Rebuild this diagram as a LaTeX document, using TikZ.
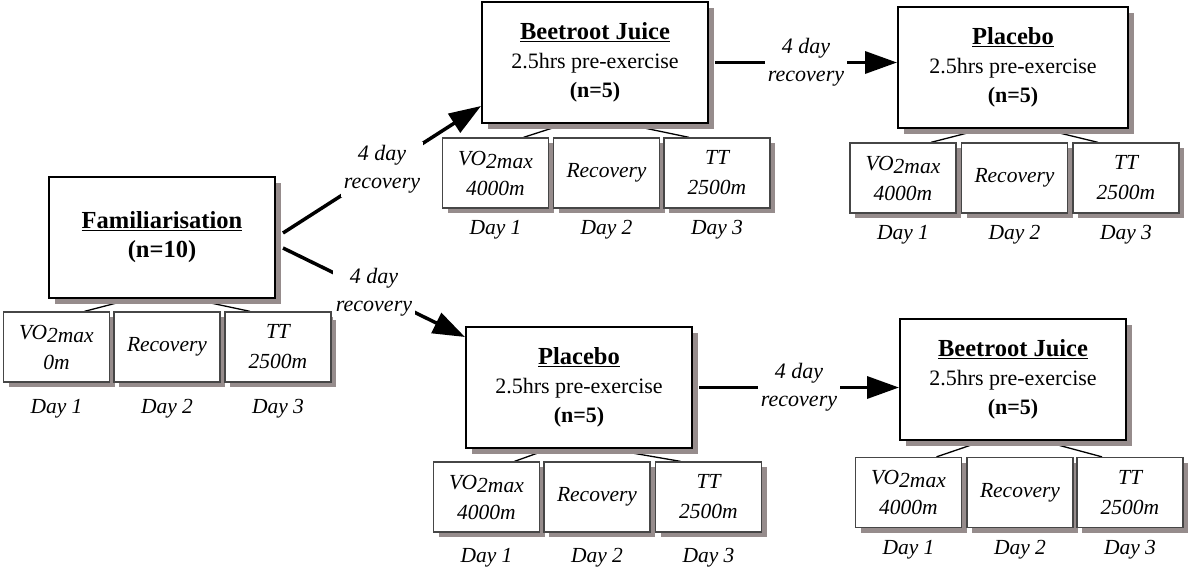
\documentclass[tikz,border=0pt]{standalone}
\usepackage{fontspec}
\setmainfont{Liberation Serif}
\usetikzlibrary{arrows.meta,shadows,backgrounds}
\definecolor{shadowc}{RGB}{150,140,140}
\definecolor{subedge}{RGB}{70,70,70}
\begin{document}
\begin{tikzpicture}[x=1pt,y=-1pt,
 mainbox/.style={draw=black,line width=2pt,fill=white,minimum width=226pt,minimum height=121pt,align=center,inner sep=0pt,font=\fontsize{22}{29}\selectfont,drop shadow={shadow xshift=6pt,shadow yshift=-6pt,fill=shadowc,opacity=1}},
 subbox/.style={draw=subedge,line width=1.3pt,fill=white,minimum width=106pt,minimum height=70pt,align=center,inner sep=0pt,font=\fontsize{21.5}{30}\selectfont\itshape,drop shadow={shadow xshift=5pt,shadow yshift=-5pt,fill=shadowc,opacity=1}},
 daylbl/.style={font=\fontsize{21.5}{26}\selectfont\itshape,inner sep=0pt},
 reclbl/.style={font=\fontsize{22}{28}\selectfont\itshape,fill=white,align=center,inner sep=3pt},
 flow/.style={line width=3.5pt,-{Triangle[length=32pt,width=22pt]}},
 tie/.style={line width=1.3pt}]
\useasboundingbox (0,0) rectangle (1189,571);

% Familiarisation
\node[mainbox,font=\fontsize{24.5}{29}\selectfont\bfseries] (fam) at (162,237.5) {\underline{Familiarisation}\\(n=10)};
\node[subbox] (fam1) at (56.5,347) {VO\raisebox{-3pt}{2max}\\0m};
\node[subbox] (fam2) at (167,347) {Recovery};
\node[subbox] (fam3) at (278,347) {TT\\2500m};
\node[daylbl] (famd1) at (56.5,409) {Day 1};
\node[daylbl] (famd2) at (167,409) {Day 2};
\node[daylbl] (famd3) at (278,409) {Day 3};

% Beetroot Juice (top)
\node[mainbox] (bja) at (595,62.5) {{\fontsize{24.5}{29}\selectfont\bfseries\underline{Beetroot Juice}}\\2.5hrs pre-exercise\\{\bfseries (n=5)}};
\node[subbox] (bja1) at (495.5,173) {VO\raisebox{-3pt}{2max}\\4000m};
\node[subbox] (bja2) at (606.5,173) {Recovery};
\node[subbox] (bja3) at (717,173) {TT\\2500m};
\node[daylbl] (bjad1) at (495.5,230) {Day 1};
\node[daylbl] (bjad2) at (606.5,230) {Day 2};
\node[daylbl] (bjad3) at (717,230) {Day 3};

% Placebo (top)
\node[mainbox,minimum width=230pt] (pla) at (1013,67.5) {{\fontsize{24.5}{29}\selectfont\bfseries\underline{Placebo}}\\2.5hrs pre-exercise\\{\bfseries (n=5)}};
\node[subbox] (pla1) at (903,178) {VO\raisebox{-3pt}{2max}\\4000m};
\node[subbox] (pla2) at (1014.5,178) {Recovery};
\node[subbox] (pla3) at (1126,178) {TT\\2500m};
\node[daylbl] (plad1) at (903,235) {Day 1};
\node[daylbl] (plad2) at (1014.5,235) {Day 2};
\node[daylbl] (plad3) at (1126,235) {Day 3};

% Placebo (bottom)
\node[mainbox] (plb) at (579,387.5) {{\fontsize{24.5}{29}\selectfont\bfseries\underline{Placebo}}\\2.5hrs pre-exercise\\{\bfseries (n=5)}};
\node[subbox] (plb1) at (486.5,497) {VO\raisebox{-3pt}{2max}\\4000m};
\node[subbox] (plb2) at (597,497) {Recovery};
\node[subbox] (plb3) at (708.5,497) {TT\\2500m};
\node[daylbl] (plbd1) at (486.5,558) {Day 1};
\node[daylbl] (plbd2) at (597,558) {Day 2};
\node[daylbl] (plbd3) at (708.5,558) {Day 3};

% Beetroot Juice (bottom)
\node[mainbox] (bjb) at (1013,379.5) {{\fontsize{24.5}{29}\selectfont\bfseries\underline{Beetroot Juice}}\\2.5hrs pre-exercise\\{\bfseries (n=5)}};
\node[subbox] (bjb1) at (908.5,492.5) {VO\raisebox{-3pt}{2max}\\4000m};
\node[subbox] (bjb2) at (1020,492.5) {Recovery};
\node[subbox] (bjb3) at (1130,492.5) {TT\\2500m};
\node[daylbl] (bjbd1) at (908.5,550) {Day 1};
\node[daylbl] (bjbd2) at (1020,550) {Day 2};
\node[daylbl] (bjbd3) at (1130,550) {Day 3};

% ties from main boxes to sub boxes
\begin{scope}[on background layer]
\foreach \m in {fam,bja,pla,plb,bjb}{
  \draw[tie] ([xshift=-30pt]\m.south) -- ([xshift=28pt]\m1.north);
  \draw[tie] ([xshift=30pt]\m.south) -- ([xshift=-28pt]\m3.north);
}
\end{scope}

% flow arrows
\draw[flow] ([xshift=7pt,yshift=4.5pt]fam.east) -- node[reclbl]{4 day\\recovery} ([yshift=18pt]bja.south west);
\draw[flow] ([xshift=7pt,yshift=-10.5pt]fam.east) -- node[reclbl]{4 day\\recovery} ([yshift=-11pt]plb.north west);
\draw[flow] ([xshift=6pt]bja.east) -- node[reclbl]{4 day\\recovery} (bja.east -| pla.west);
\draw[flow] ([xshift=6pt]plb.east) -- node[reclbl]{4 day\\recovery} (plb.east -| bjb.west);
\end{tikzpicture}
\end{document}
